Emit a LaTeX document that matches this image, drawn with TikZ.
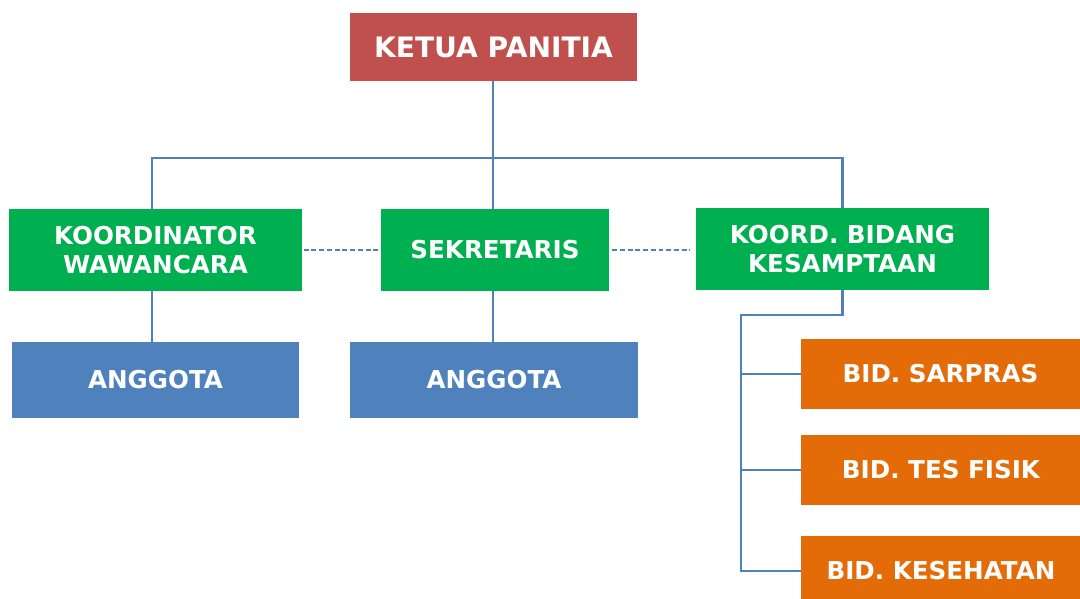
\documentclass[tikz,border=0pt]{standalone}
\usepackage{fontspec}
\setmainfont{DejaVu Sans}
\usepackage{tikz}
\usetikzlibrary{positioning}

\definecolor{merah}{HTML}{C0504D}
\definecolor{hijau}{HTML}{00B050}
\definecolor{biru}{HTML}{4F81BD}
\definecolor{oranye}{HTML}{E36C09}

\begin{document}
\begin{tikzpicture}[
    x=0.025cm, y=-0.025cm,
    kotak/.style={rectangle, inner sep=0pt, text=white, align=center,
        font=\fontsize{17.5}{20}\bfseries\selectfont},
    ketua/.style={kotak, fill=merah, minimum width=7.175cm, minimum height=1.7cm,
        font=\fontsize{20}{23}\bfseries\selectfont},
    koord/.style={kotak, fill=hijau, minimum height=2.05cm},
    anggota/.style={kotak, fill=biru, minimum width=7.175cm, minimum height=1.9cm},
    bidang/.style={kotak, fill=oranye, minimum width=6.975cm, minimum height=1.75cm},
    garis/.style={draw=biru, line width=1.9pt},
    putus/.style={draw=biru, line width=1.9pt, dash pattern=on 3.5pt off 2pt}
]
\useasboundingbox (0,0) rectangle (1080,599);
\clip (0,0) rectangle (1080,599);
\fill[white] (0,0) rectangle (1080,599);

\node[ketua] (ketua) at (493.5,47) {KETUA PANITIA};
\node[koord, minimum width=7.325cm] (wawancara) at (155.5,250) {KOORDINATOR\\WAWANCARA};
\node[koord, minimum width=5.7cm] (sekretaris) at (495,250) {SEKRETARIS};
\node[koord, minimum width=7.325cm] (kesamptaan) at (842.5,249) {KOORD. BIDANG\\KESAMPTAAN};
\node[anggota] (anggota1) at (155.5,380) {ANGGOTA};
\node[anggota] (anggota2) at (494,380) {ANGGOTA};
\node[bidang] (sarpras) at (940.5,374) {BID. SARPRAS};
\node[bidang] (tesfisik) at (941,470) {BID. TES FISIK};
\node[bidang] (kesehatan) at (941,571) {BID. KESEHATAN};

\coordinate (atas) at (493,158);
\coordinate (siku) at (741,315);

\draw[garis] (ketua.south -| atas) -- (atas);
\draw[garis] (wawancara.north -| 152,0) |- (atas) -| (kesamptaan.north);
\draw[garis] (atas) -- (sekretaris.north -| atas);
\draw[garis] (wawancara.south -| 152,0) -- (anggota1.north -| 152,0);
\draw[garis] (sekretaris.south -| atas) -- (anggota2.north -| atas);
\draw[garis] (kesamptaan.south) |- (siku) |- (kesehatan.west);
\draw[garis] (siku |- sarpras.west) -- (sarpras.west);
\draw[garis] (siku |- tesfisik.west) -- (tesfisik.west);
\draw[putus] ([xshift=1pt]wawancara.east) -- ([xshift=-1pt]sekretaris.west);
\draw[putus] ([xshift=2pt]sekretaris.east) -- ([xshift=-4pt]sekretaris.east -| kesamptaan.west);
\end{tikzpicture}
\end{document}
